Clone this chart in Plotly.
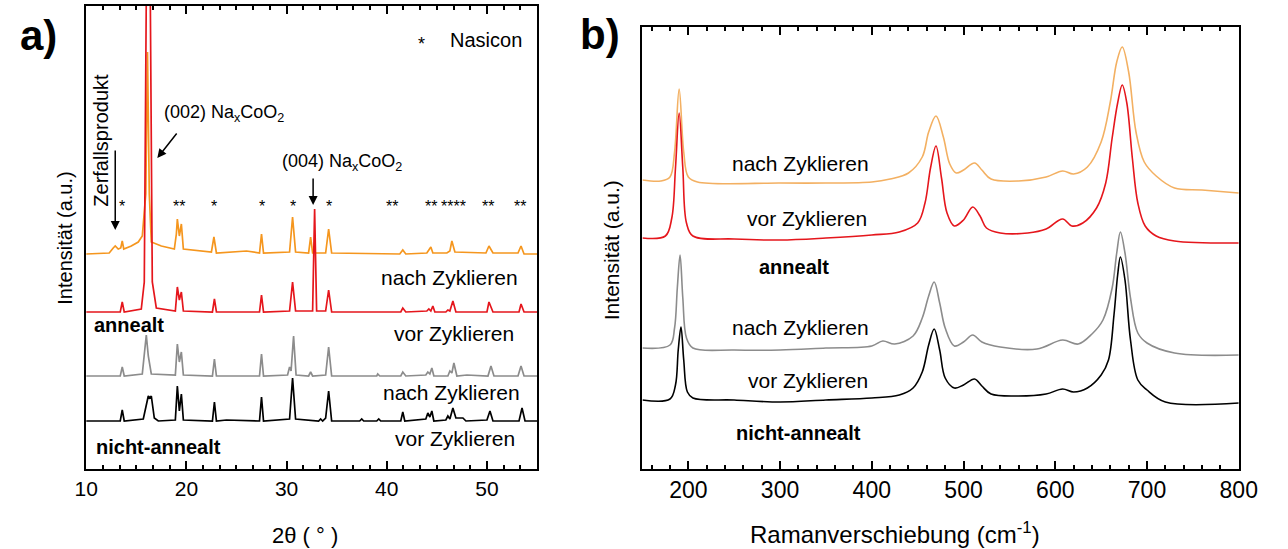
import plotly.graph_objects as go

# ---------------- Panel a) XRD: (2theta, intensity above own baseline) ----------------
xrd_nach_anneal = [(10,0),(12.3,1),(12.7,6),(12.9,8),(13.2,5),(13.45,6),(13.6,13),(13.75,5),(14.5,8),
    (15.2,12),(15.6,18),(15.95,60),(16.12,202),(16.3,60),(16.5,12),(17.5,8),(18.8,5),(19.0,20),(19.1,35),
    (19.3,18),(19.5,30),(19.7,5),(22.5,2),(22.75,17),(23.0,1),(25.0,2),(26.0,3),(27.3,1),(27.5,20),(27.7,1),
    (30.3,2),(30.6,37),(30.9,2),(32.2,1),(32.4,17),(32.6,1),(33.9,1),(34.2,25),(34.5,1),(41.3,0),(41.6,4),
    (41.9,0),(44.0,1),(44.2,4),(44.4,7),(44.6,1),(46.0,1),(46.3,3),(46.5,13),(46.8,2),(49.9,1),(50.2,8),
    (50.6,1),(53.1,1),(53.4,8),(53.7,0),(55,0)]
xrd_vor_anneal = [(10,0),(13.4,0),(13.6,10),(13.8,0),(15.5,3),(15.8,30),(16.2,600),(16.6,30),(17.0,4),
    (18.9,1),(19.1,25),(19.3,12),(19.5,20),(19.7,1),(22.6,0),(22.8,13),(23.0,0),(27.3,0),(27.5,17),(27.7,0),
    (30.3,1),(30.6,30),(30.9,1),(32.6,1),(32.8,103),(33.0,1),(33.9,1),(34.2,22),(34.5,0),(41.4,0),(41.6,4),
    (41.9,0),(44.0,1),(44.2,3),(44.4,1),(44.6,6),(44.8,0),(45.9,0),(46.1,2),(46.3,1),(46.6,11),(46.9,0),
    (50.0,0),(50.2,10),(50.6,0),(53.2,0),(53.4,8),(53.7,0),(55,0)]
xrd_nach_nicht = [(10,0),(13.4,0),(13.6,9),(13.8,0),(15.6,2),(15.8,20),(16.0,41),(16.2,20),(16.5,2),
    (18.9,1),(19.1,32),(19.3,14),(19.5,24),(19.7,1),(22.6,0),(22.8,17),(23.0,0),(27.3,0),(27.5,22),(27.7,0),
    (30.1,1),(30.3,9),(30.45,5),(30.7,40),(30.95,1),(32.2,0),(32.4,4),(32.6,0),(33.9,1),(34.2,29),(34.5,0),
    (39.0,0),(39.1,2),(39.3,0),(41.4,0),(41.6,4),(41.9,0),(43.9,1),(44.1,4),(44.3,2),(44.5,8),(44.7,0),
    (46.1,0),(46.3,5),(46.5,3),(46.7,13),(47.0,0),(48.0,1),(50.1,0),(50.4,10),(50.7,0),(53.1,0),(53.4,10),
    (53.7,0),(55,0)]
xrd_vor_nicht = [(10,0),(13.4,0),(13.6,11),(13.8,0),(15.7,2),(16.0,18),(16.2,25),(16.35,23),(16.5,25),
    (16.8,3),(17.2,0),(18.9,1),(19.1,35),(19.3,10),(19.5,27),(19.7,1),(22.6,0),(22.8,19),(23.0,0),(24.0,1),
    (27.3,0),(27.5,24),(27.7,0),(30.3,2),(30.6,43),(30.9,2),(33.2,0),(33.4,2),(33.6,0),(33.9,3),(34.2,30),
    (34.5,0),(37.3,0),(37.5,2),(37.7,0),(39.0,0),(39.2,2),(39.4,0),(41.4,0),(41.6,9),(41.8,0),(43.9,2),
    (44.1,8),(44.3,4),(44.5,10),(44.7,0),(45.9,1),(46.1,5),(46.3,2),(46.6,13),(46.9,3),(47.6,3),(47.9,0),
    (50.0,1),(50.3,10),(50.6,0),(53.2,0),(53.5,13),(53.8,0),(55,0)]
xrd_offsets = [215, 157, 93, 48]   # nach/vor anneal, nach/vor nicht-anneal
nasicon_pos = [13.6, 19.3, 22.8, 27.5, 30.6, 34.2, 40.5, 44.4, 46.7, 50.1, 53.3]
nasicon_marks = ["*", "**", "*", "*", "*", "*", "**", "**", "****", "**", "**"]

# ---------------- Panel b) Raman ----------------
raman_nach_anneal = [(150,2),(170,1),(180,5),(185,30),(190,93),(195,30),(200,5),(210,0),(300,-1),(350,-1),
    (400,0),(420,3),(440,9),(455,25),(462,50),(470,66),(478,45),(485,18),(492,9),(500,12),(512,19),(520,12),
    (530,3),(560,1),(590,5),(608,11),(620,8),(635,15),(650,40),(660,80),(667,120),(673,135),(680,110),
    (688,50),(697,20),(710,6),(730,-6),(760,-8),(800,-11)]
raman_vor_anneal = [(150,0),(175,2),(182,20),(186,70),(190,125),(194,70),(198,15),(205,2),(250,-1),(300,-2),
    (350,0),(400,3),(430,6),(450,15),(458,35),(464,70),(470,92),(476,60),(482,25),(490,12),(500,18),(510,31),
    (518,22),(525,10),(540,5),(570,5),(590,9),(608,19),(618,12),(630,15),(645,30),(655,55),(662,100),
    (668,135),(673,153),(678,135),(684,80),(690,35),(698,12),(710,2),(730,-3),(800,-5)]
raman_nach_nicht = [(150,0),(180,3),(185,20),(188,60),(191,93),(194,50),(198,10),(205,0),(250,-2),(300,-2),
    (350,0),(400,2),(412,7),(425,4),(445,12),(455,30),(462,52),(468,66),(474,45),(480,20),(490,2),(500,6),
    (510,13),(520,6),(540,1),(580,-1),(608,8),(625,4),(640,14),(652,28),(662,60),(667,95),(671,116),
    (676,95),(682,50),(690,15),(700,5),(730,-5),(800,-7)]
raman_vor_nicht = [(150,0),(180,1),(186,15),(189,50),(192,73),(195,40),(199,8),(205,2),(250,0),(300,-2),
    (350,0),(400,2),(430,5),(445,12),(455,28),(462,55),(468,71),(474,50),(480,22),(490,12),(500,15),
    (512,21),(520,14),(530,6),(560,4),(590,6),(608,11),(620,8),(635,12),(650,25),(658,40),(664,85),
    (668,125),(671,143),(676,120),(682,60),(690,20),(700,10),(720,-2),(800,-3)]
raman_offsets = [287, 231, 121, 69]

FONT = "Liberation Sans, Arial, sans-serif"
W, H = 1288, 549

fig = go.Figure()

def add(series, off, color, xa, ya, width, shape):
    fig.add_trace(go.Scatter(x=[p[0] for p in series], y=[p[1] + off for p in series], mode="lines",
                             line=dict(color=color, width=width, shape=shape), xaxis=xa, yaxis=ya,
                             showlegend=False, hoverinfo="skip"))

add(xrd_vor_nicht, xrd_offsets[3], "#000000", "x", "y", 1.7, "linear")
add(xrd_nach_nicht, xrd_offsets[2], "#8C8C8C", "x", "y", 1.7, "linear")
add(xrd_nach_anneal, xrd_offsets[0], "#F5961E", "x", "y", 1.7, "linear")
add(xrd_vor_anneal, xrd_offsets[1], "#E5161C", "x", "y", 1.7, "linear")

add(raman_vor_nicht, raman_offsets[3], "#000000", "x2", "y2", 1.6, "spline")
add(raman_nach_nicht, raman_offsets[2], "#8C8C8C", "x2", "y2", 1.6, "spline")
add(raman_nach_anneal, raman_offsets[0], "#F3B062", "x2", "y2", 1.6, "spline")
add(raman_vor_anneal, raman_offsets[1], "#E5161C", "x2", "y2", 1.6, "spline")

def px_x(px): return px / W
def px_y(py): return 1 - py / H

axis_common = dict(showline=True, linecolor="black", linewidth=1.5, mirror="ticks", ticks="inside",
                   tickcolor="black", tickwidth=1.5, ticklen=8, showgrid=False, zeroline=False,
                   tickfont=dict(family=FONT, size=21, color="black"))

fig.update_layout(
    width=W, height=H, margin=dict(l=0, r=0, t=0, b=0),
    paper_bgcolor="white", plot_bgcolor="white",
    xaxis=dict(domain=[76 / W, 538 / W], range=[10, 55], tick0=10, dtick=10, anchor="y",
               minor=dict(ticks="inside", ticklen=4, tickwidth=1.5, tickcolor="black", dtick=10 / 6, tick0=10),
               **axis_common),
    yaxis=dict(domain=[px_y(469), px_y(6)], range=[0, 463], showline=True, linecolor="black", linewidth=1.5,
               mirror=True, ticks="", showticklabels=False, showgrid=False, zeroline=False, anchor="x"),
    xaxis2=dict(domain=[646 / W, 1257 / W], range=[150, 800], tick0=0, dtick=100, anchor="y2",
                minor=dict(ticks="inside", ticklen=4, tickwidth=1.5, tickcolor="black", dtick=20, tick0=0),
                **{**axis_common, "tickfont": dict(family=FONT, size=23, color="black")}),
    yaxis2=dict(domain=[px_y(469), px_y(27)], range=[0, 442], showline=True, linecolor="black", linewidth=1.5,
                mirror=True, ticks="", showticklabels=False, showgrid=False, zeroline=False, anchor="x2"),
)

ann = []
def txt(text, x, y, size, xanchor="center", bold=False, xref="x", yref="y", angle=0, yanchor="middle"):
    ann.append(dict(text=f"<b>{text}</b>" if bold else text, x=x, y=y, xref=xref, yref=yref, showarrow=False,
                    xanchor=xanchor, yanchor=yanchor, textangle=angle,
                    font=dict(family=FONT, size=size, color="black")))

def arrow(x0, y0, x1, y1, xref="x", yref="y"):
    ann.append(dict(x=x1, y=y1, ax=x0, ay=y0, xref=xref, yref=yref, axref=xref, ayref=yref, text="",
                    showarrow=True, arrowhead=2, arrowsize=1.2, arrowwidth=1.5, arrowcolor="black"))

# panel letters
txt("a)", px_x(6), px_y(35), 42, xanchor="left", bold=True, xref="paper", yref="paper")
txt("b)", px_x(580), px_y(34), 42, xanchor="left", bold=True, xref="paper", yref="paper")

# panel a annotations
txt("*", 43.5, 425, 18)
txt("Nasicon", 46.1, 429, 20, xanchor="left")
txt("(002) Na<sub>x</sub>CoO<sub>2</sub>", 17.6, 356, 18, xanchor="left")
arrow(19.15, 337, 17.1, 311)
txt("(004) Na<sub>x</sub>CoO<sub>2</sub>", 29.3, 307, 18, xanchor="left")
arrow(32.65, 292, 32.65, 264)
txt("Zerfallsprodukt", 11.45, 329, 20, angle=-90)
arrow(12.9, 320, 12.9, 239)
for p, m in zip(nasicon_pos, nasicon_marks):
    txt(m, p, 263, 16)
txt("nach Zyklieren", 53.25, 192, 21, xanchor="right")
txt("annealt", 10.6, 144, 20, xanchor="left", bold=True)
txt("vor Zyklieren", 52.85, 136, 21, xanchor="right")
txt("nach Zyklieren", 53.45, 77, 21, xanchor="right")
txt("vor Zyklieren", 52.95, 31, 21, xanchor="right")
txt("nicht-annealt", 10.8, 22, 20, xanchor="left", bold=True)

# panel b annotations
txt("nach Zyklieren", 322, 306, 21, xref="x2", yref="y2")
txt("vor Zyklieren", 329, 251, 21, xref="x2", yref="y2")
txt("annealt", 315, 202, 20, bold=True, xref="x2", yref="y2")
txt("nach Zyklieren", 322, 142, 21, xref="x2", yref="y2")
txt("vor Zyklieren", 330, 89, 21, xref="x2", yref="y2")
txt("nicht-annealt", 320, 36, 20, bold=True, xref="x2", yref="y2")

# axis titles
txt("Intensität (a.u.)", px_x(54), px_y(238), 20, xref="paper", yref="paper", angle=-90)
txt("Intensität (a.u.)", px_x(614), px_y(250), 21, xref="paper", yref="paper", angle=-90)
txt("2θ ( ° )", px_x(300), px_y(535), 22, xref="paper", yref="paper")
txt("Ramanverschiebung (cm<sup>-1</sup>)", px_x(905), px_y(533), 24, xref="paper", yref="paper")

fig.update_layout(annotations=ann)
fig.write_html("out.html")
